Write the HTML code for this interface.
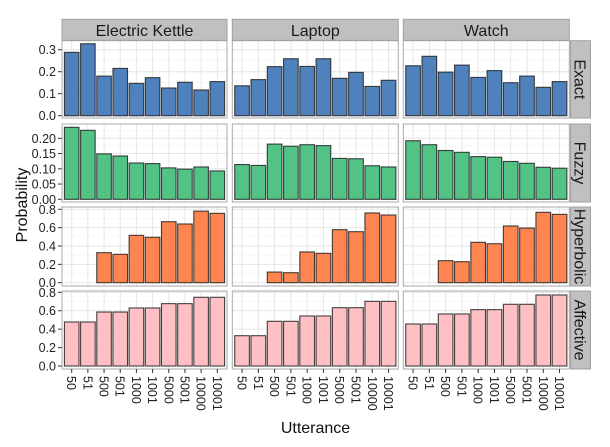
<!DOCTYPE html>
<html><head><meta charset="utf-8"><style>
body{margin:0;background:#fff;}
svg{display:block;font-family:"Liberation Sans",Arial,sans-serif;}
</style></head><body>
<svg id="chart" width="610" height="447"></svg>
<script>
const categories = ["50","51","500","501","1000","1001","5000","5001","10000","10001"];
const products = ["Electric Kettle","Laptop","Watch"];
const rowLabels = ["Exact","Fuzzy","Hyperbolic","Affective"];
const exactKettle = [0.288,0.327,0.18,0.215,0.147,0.173,0.126,0.152,0.117,0.155];
const exactLaptop = [0.136,0.164,0.223,0.259,0.224,0.259,0.17,0.197,0.133,0.161];
const exactWatch = [0.227,0.27,0.198,0.23,0.174,0.205,0.15,0.18,0.129,0.155];
const fuzzyKettle = [0.236,0.226,0.149,0.142,0.119,0.117,0.103,0.099,0.106,0.093];
const fuzzyLaptop = [0.114,0.111,0.181,0.174,0.179,0.176,0.134,0.133,0.11,0.106];
const fuzzyWatch = [0.192,0.179,0.16,0.154,0.14,0.138,0.124,0.118,0.105,0.102];
const hypKettle = [0,0,0.327,0.309,0.516,0.495,0.665,0.64,0.78,0.756];
const hypLaptop = [0,0,0.116,0.109,0.335,0.32,0.578,0.556,0.76,0.738];
const hypWatch = [0,0,0.24,0.229,0.44,0.425,0.618,0.596,0.767,0.745];
const affKettle = [0.478,0.478,0.586,0.586,0.63,0.63,0.677,0.677,0.746,0.746];
const affLaptop = [0.329,0.329,0.485,0.485,0.543,0.543,0.633,0.633,0.702,0.702];
const affWatch = [0.456,0.456,0.565,0.565,0.612,0.612,0.67,0.67,0.771,0.771];
const exactTicks = [0,0.1,0.2,0.3];
const exactTickLabels = ["0.0","0.1","0.2","0.3"];
const fuzzyTicks = [0,0.05,0.1,0.15,0.2];
const fuzzyTickLabels = ["0.00","0.05","0.10","0.15","0.20"];
const probTicks = [0,0.2,0.4,0.6,0.8];
const probTickLabels = ["0.0","0.2","0.4","0.6","0.8"];

const NS="http://www.w3.org/2000/svg";
const svg=document.getElementById('chart');
function mk(tag,attrs,parent){const e=document.createElementNS(NS,tag);for(const k in attrs)e.setAttribute(k,attrs[k]);(parent||svg).appendChild(e);return e;}

const colX=[[62,227],[232.3,398.3],[403.3,569.3]];
const rows=[
 {top:40.7,bot:118,zeroY:115.7,perUnit:220,data:[exactKettle,exactLaptop,exactWatch],ticks:exactTicks,tl:exactTickLabels,fill:"#4f81bd"},
 {top:124,bot:202,zeroY:199.3,perUnit:305,data:[fuzzyKettle,fuzzyLaptop,fuzzyWatch],ticks:fuzzyTicks,tl:fuzzyTickLabels,fill:"#52c285"},
 {top:207,bot:286,zeroY:282.7,perUnit:91.75,data:[hypKettle,hypLaptop,hypWatch],ticks:probTicks,tl:probTickLabels,fill:"#fe8450"},
 {top:291,bot:369,zeroY:366,perUnit:92.1,data:[affKettle,affLaptop,affWatch],ticks:probTicks,tl:probTickLabels,fill:"#ffc0c4"}
];

const defs=mk('defs',{});

rows.forEach((r,ri)=>{
 const yS=v=>r.zeroY-v*r.perUnit;
 const sg=mk('g',{});
 
 
 mk('rect',{x:570.5,y:r.top,width:20,height:r.bot-r.top,fill:"#c0c0c0",stroke:"#a0a0a0"},sg);
 const cy=(r.top+r.bot)/2;
 const st=mk('text',{x:580.5,y:cy,"text-anchor":"middle","font-size":16,fill:"#1a1a1a",transform:`rotate(90 580.5 ${cy}) translate(0 6)`},sg);st.textContent=rowLabels[ri];
 const yg=mk('g',{});
 
 
 r.ticks.forEach((v,i)=>{
  const y=yS(v);
  mk('line',{x1:58,x2:62,y1:y,y2:y,stroke:"#333"},yg);
  const t=mk('text',{x:56,y:y+4.5,"text-anchor":"end","font-size":12.5,fill:"#222"},yg);t.textContent=r.tl[i];
 });
 colX.forEach((cx,c)=>{
  const [x0,x1]=cx;
  const w=x1-x0;
  const unit=w/10.2;
  const xS=i=>x0+(i+1-0.4)*unit;
  const cid='clip'+ri+'_'+c;
  const cp=mk('clipPath',{id:cid},defs);
  mk('rect',{x:x0,y:r.top,width:w,height:r.bot-r.top},cp);
  const pg=mk('g',{});
  
  
  mk('rect',{x:x0,y:r.top,width:w,height:r.bot-r.top,fill:"#fff"},pg);
  const inner=mk('g',{"clip-path":`url(#${cid})`},pg);
  const step=r.ticks[1]-r.ticks[0];
  for(let k=-1;k<=40;k++){const v=k*step/2;const y=yS(v);const major=k%2===0;if(y>r.top&&y<r.bot)mk('line',{x1:x0,x2:x1,y1:y,y2:y,stroke:major?"#e6e6e6":"#f3f3f3","stroke-width":major?1:0.6},inner);}
  categories.forEach((k,i)=>{mk('line',{x1:xS(i),x2:xS(i),y1:r.top,y2:r.bot,stroke:"#e6e6e6"},inner);});
  const vals=r.data[c];
  categories.forEach((k,i)=>{
   const b=mk('rect',{x:xS(i)-0.45*unit,width:0.9*unit,y:yS(vals[i]),height:Math.max(0,yS(0)-yS(vals[i])),fill:r.fill,stroke:"#222","stroke-width":1.1,"stroke-opacity":0.85},inner);
   
   
  });
  mk('rect',{x:x0,y:r.top,width:w,height:r.bot-r.top,fill:"none",stroke:"#aaa"},pg);
  if(ri===3){
   const xg=mk('g',{});
   
   
   categories.forEach((k,i)=>{
    const x=xS(i);
    mk('line',{x1:x,x2:x,y1:369,y2:373,stroke:"#333"},xg);
    const t=mk('text',{x:x,y:376,"font-size":12.5,fill:"#222",transform:`rotate(90 ${x} 376) translate(0 4.5)`},xg);t.textContent=k;
   });
  }
 });
});

products.forEach((p,c)=>{
 const g=mk('g',{});
 
 
 mk('rect',{x:colX[c][0],y:19.3,width:colX[c][1]-colX[c][0],height:21,fill:"#c0c0c0",stroke:"#a0a0a0","stroke-width":1},g);
 const t=mk('text',{x:(colX[c][0]+colX[c][1])/2,y:36,"text-anchor":"middle","font-size":16,fill:"#1a1a1a"},g);t.textContent=p;
});

const yt=mk('text',{x:27,y:205,"text-anchor":"middle","font-size":16,fill:"#111",transform:"rotate(-90 27 205)"});
yt.textContent="Probability";
const xt=mk('text',{x:315.5,y:433,"text-anchor":"middle","font-size":16,fill:"#111"});
xt.textContent="Utterance";
</script>
</body></html>
